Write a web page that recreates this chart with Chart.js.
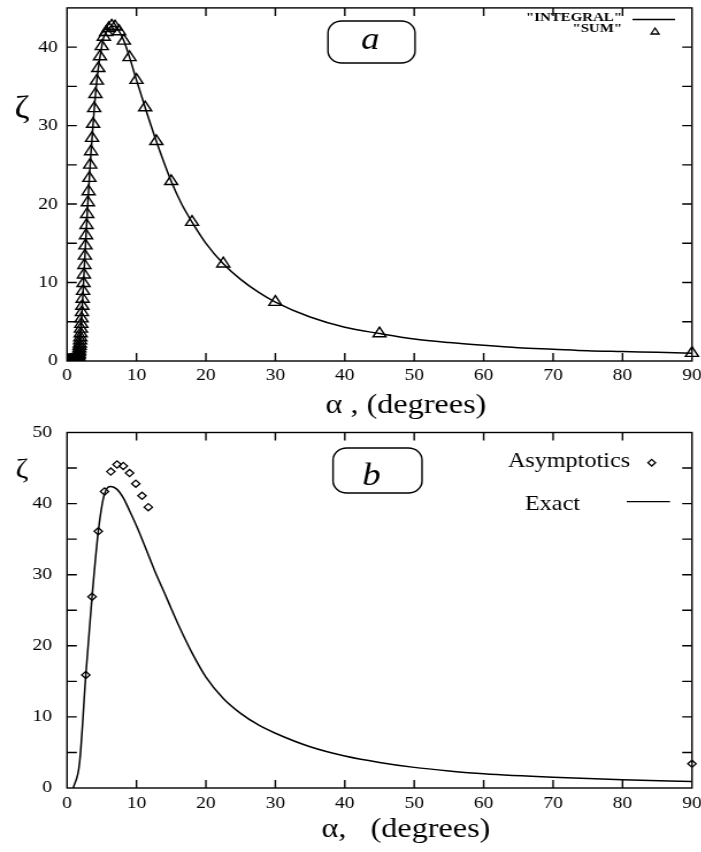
<!DOCTYPE html>
<html><head><meta charset="utf-8">
<script src="https://cdn.jsdelivr.net/npm/chart.js@4/dist/chart.umd.min.js"></script>
<style>
html,body{margin:0;padding:0;background:#fff;width:701px;height:852px;overflow:hidden}
.wrap{position:absolute;left:0;transform-origin:0 0;transform:scaleX(1.15)}
#wa{top:0}
#wb{top:415px}
canvas{display:block}
</style></head><body>
<div class="wrap" id="wa"><canvas id="ca" width="610" height="430"></canvas></div>
<div class="wrap" id="wb"><canvas id="cb" width="610" height="437"></canvas></div>
<script>
// ---------- data ----------
// Panel a: "SUM" (triangles)
const sumAlpha = [90, 45, 30, 22.5, 18, 15, 12.86, 11.25, 10, 9, 8.18, 7.5, 6.92, 6.43, 6.0, 5.63, 5.29, 5.0, 4.74, 4.5,
  4.29, 4.09, 3.91, 3.75, 3.6, 3.46, 3.33, 3.21, 3.10, 3.0, 2.90, 2.81, 2.73, 2.65, 2.57, 2.5, 2.43, 2.37, 2.31, 2.25,
  2.20, 2.14, 2.09, 2.05, 2.0, 1.96, 1.91, 1.88, 1.84, 1.8, 1.76, 1.73, 1.70, 1.67, 1.64, 1.61, 1.58, 1.55, 1.53, 1.5,
  1.45, 1.4, 1.36, 1.32, 1.29, 1.25, 1.2, 1.17, 1.13, 1.1, 1.06, 1.03, 1.0, 0.95, 0.9, 0.86, 0.82, 0.78, 0.75, 0.72,
  0.69, 0.67, 0.64, 0.6, 0.56, 0.53, 0.5, 0.45, 0.4, 0.35, 0.3, 0.25, 0.2];
const sumZeta = [1.0, 3.5, 7.5, 12.4, 17.7, 22.9, 28.0, 32.3, 35.8, 38.7, 40.8, 42.0, 42.6, 42.7, 42.4, 41.9, 41.3, 40.1, 38.8, 37.3,
  35.7, 34.0, 32.2, 30.2, 28.4, 26.7, 25.0, 23.3, 21.6, 20.2, 18.7, 17.3, 16.0, 14.7, 13.4, 12.2, 11.0, 9.9, 8.9, 7.9,
  7.0, 6.2, 5.4, 4.7, 4.1, 3.5, 3.0, 2.6, 2.2, 1.9, 1.6, 1.3, 1.1, 0.9, 0.75, 0.6, 0.5, 0.4, 0.35, 0.3,
  0.25, 0.2, 0.15, 0.12, 0.1, 0.08, 0.06, 0.05, 0.04, 0.03, 0.02, 0.02, 0.01, 0, 0, 0, 0, 0, 0, 0,
  0, 0, 0, 0, 0, 0, 0, 0, 0, 0, 0, 0, 0];
// Panel a: "INTEGRAL" (line)
const integralAlpha = [0, 0.5, 1.0, 1.3, 1.5, 1.67, 1.8, 1.91, 2.0, 2.14, 2.25, 2.37, 2.5, 2.65, 2.81, 3.0, 3.21, 3.46, 3.75, 4.09,
  4.5, 5.0, 5.29, 5.63, 6.0, 6.43, 6.92, 7.5, 8.18, 9, 10, 11.25, 12.86, 15, 16.5, 18, 20, 22.5, 25, 27.5,
  30, 35, 40, 45, 50, 55, 60, 65, 70, 75, 80, 85, 90];
const integralZeta = [0, 0, 0, 0.05, 0.3, 0.9, 1.9, 3.0, 4.1, 6.2, 7.9, 9.9, 12.2, 14.7, 17.3, 20.2, 23.3, 26.7, 30.2, 34.0,
  37.3, 40.1, 41.3, 41.9, 42.4, 42.7, 42.6, 42.0, 40.8, 38.7, 35.8, 32.3, 28.0, 22.9, 20.0, 17.7, 15.0, 12.4, 10.4, 8.8,
  7.5, 5.6, 4.3, 3.5, 2.8, 2.35, 2.0, 1.7, 1.5, 1.3, 1.2, 1.1, 1.0];
// Panel b: "Asymptotics" (diamonds)
const asymAlpha = [2.7, 3.6, 4.5, 5.4, 6.3, 7.2, 8.1, 9.0, 9.9, 10.8, 11.7, 90];
const asymZeta = [15.9, 26.9, 36.1, 41.7, 44.5, 45.5, 45.3, 44.3, 42.8, 41.1, 39.5, 3.4];
// Panel b: "Exact" (line)
const exactAlpha = [0.9, 1.8, 2.7, 3.6, 4.5, 5.4, 6.3, 7.2, 8.1, 9.0, 9.9, 10.8, 11.7, 12.6, 13.5, 14.4, 16.2, 18, 20, 22.5,
  25, 27.5, 30, 35, 40, 45, 50, 55, 60, 70, 80, 90];
const exactZeta = [0, 3.5, 15.9, 26.9, 36.1, 41.4, 42.4, 42.0, 40.8, 39.0, 37.1, 35.0, 32.8, 30.6, 28.6, 26.6, 22.6, 19.0, 15.6, 12.6,
  10.5, 8.9, 7.7, 5.8, 4.5, 3.6, 2.9, 2.4, 2.0, 1.5, 1.15, 0.9];
// Ticks
const xTicks = [0, 10, 20, 30, 40, 50, 60, 70, 80, 90];
const yTicksA = [0, 5, 10, 15, 20, 25, 30, 35, 40, 45];
const yTicksB = [0, 5, 10, 15, 20, 25, 30, 35, 40, 45, 50];
const yLabelsA = [0, 10, 20, 30, 40];
const yLabelsB = [0, 10, 20, 30, 40, 50];
// Texts
const legendA = ['"INTEGRAL"', '"SUM"'];
const legendB = ['Asymptotics', 'Exact'];
const panelTags = ['a', 'b'];
const yTitle = 'ζ';
const xTitleA = 'α , (degrees)';
const xTitleB = 'α,   (degrees)';

// ---------- drawing ----------
const SERIF = '"Liberation Serif", "Times New Roman", serif';
const pts = (xs, ys) => xs.map((x, i) => ({ x, y: ys[i] }));

function roundBox(ctx, x1, y1, x2, y2, r) {
  ctx.beginPath();
  ctx.moveTo(x1 + r, y1);
  ctx.arcTo(x2, y1, x2, y2, r);
  ctx.arcTo(x2, y2, x1, y2, r);
  ctx.arcTo(x1, y2, x1, y1, r);
  ctx.arcTo(x1, y1, x2, y1, r);
  ctx.closePath();
  ctx.stroke();
}
function triangle(ctx, x, y, r) {
  ctx.beginPath();
  for (let k = 0; k < 3; k++) {
    const a = k * 2 * Math.PI / 3;
    const px = x + Math.sin(a) * r, py = y - Math.cos(a) * r;
    k ? ctx.lineTo(px, py) : ctx.moveTo(px, py);
  }
  ctx.closePath(); ctx.stroke();
}
function diamond(ctx, x, y, r) {
  ctx.beginPath();
  ctx.moveTo(x, y - r); ctx.lineTo(x + r, y); ctx.lineTo(x, y + r); ctx.lineTo(x - r, y);
  ctx.closePath(); ctx.stroke();
}

const decor = {
  id: 'decor',
  afterDatasetsDraw(chart, args, o) {
    const { ctx, chartArea: a, scales: { x, y } } = chart;
    ctx.save();
    ctx.strokeStyle = '#000'; ctx.fillStyle = '#000';
    ctx.lineWidth = 1.4;
    ctx.strokeRect(a.left, a.top, a.right - a.left, a.bottom - a.top);
    ctx.beginPath();
    x.ticks.forEach(t => {
      const px = x.getPixelForValue(t.value);
      if (px <= a.left + 1 || px >= a.right - 1) return;
      ctx.moveTo(px, a.bottom); ctx.lineTo(px, a.bottom - 8);
      ctx.moveTo(px, a.top); ctx.lineTo(px, a.top + 8);
    });
    y.ticks.forEach(t => {
      const py = y.getPixelForValue(t.value);
      if (py <= a.top + 1 || py >= a.bottom - 1) return;
      ctx.moveTo(a.left, py); ctx.lineTo(a.left + 8.5, py);
      ctx.moveTo(a.right, py); ctx.lineTo(a.right - 8.5, py);
    });
    ctx.stroke();
    // axis titles
    ctx.textAlign = 'center'; ctx.textBaseline = 'alphabetic';
    ctx.font = o.yTitle.font; ctx.fillText(yTitle, o.yTitle.x, o.yTitle.y);
    ctx.font = o.xTitle.font; ctx.fillText(o.xTitle.text, o.xTitle.x, o.xTitle.y);
    // panel tag box
    const b = o.box;
    ctx.lineWidth = 1.4;
    roundBox(ctx, b.x1, b.y1, b.x2, b.y2, b.r);
    ctx.font = b.font; ctx.fillText(b.text, b.tx, b.ty);
    // legend
    o.legend.forEach(l => {
      ctx.font = l.font; ctx.textAlign = l.align;
      ctx.fillText(l.text, l.x, l.y);
      ctx.lineWidth = 1.3;
      if (l.sample === 'line') {
        ctx.beginPath(); ctx.moveTo(l.sx1, l.sy); ctx.lineTo(l.sx2, l.sy); ctx.stroke();
      } else if (l.sample === 'triangle') {
        triangle(ctx, l.sx1, l.sy, l.r);
      } else if (l.sample === 'diamond') {
        diamond(ctx, l.sx1, l.sy, l.r);
      }
    });
    ctx.restore();
  }
};

function makeChart(id, datasets, yTicks, yLabels, yMax, geo, deco) {
  return new Chart(document.getElementById(id), {
    type: 'scatter',
    data: { datasets },
    options: {
      responsive: false, animation: false, events: [],
      layout: { padding: { left: 0, right: geo.right, top: geo.top, bottom: 0 } },
      plugins: { legend: { display: false }, tooltip: { enabled: false }, decor: deco },
      scales: {
        x: {
          type: 'linear', min: 0, max: 90,
          afterBuildTicks: s => { s.ticks = xTicks.map(v => ({ value: v })); },
          afterFit: s => { s.height = geo.xAxisH; s.paddingLeft = 0; s.paddingRight = 0; },
          grid: { display: false, drawTicks: false }, border: { display: false },
          ticks: { font: { family: SERIF, size: 17 }, color: '#000', padding: geo.xPad, maxRotation: 0, autoSkip: false }
        },
        y: {
          type: 'linear', min: 0, max: yMax,
          afterBuildTicks: s => { s.ticks = yTicks.map(v => ({ value: v })); },
          afterFit: s => { s.width = geo.yAxisW; s.paddingTop = 0; s.paddingBottom = 0; },
          grid: { display: false, drawTicks: false }, border: { display: false },
          ticks: {
            font: { family: SERIF, size: 17 }, color: '#000', padding: geo.yPad, autoSkip: false,
            callback: v => yLabels.includes(v) ? String(v) : ''
          }
        }
      }
    },
    plugins: [decor]
  });
}

// Panel a
makeChart('ca', [
  { label: 'INTEGRAL', data: pts(integralAlpha, integralZeta), showLine: true, borderColor: '#000', borderWidth: 1.5,
    pointRadius: 0, cubicInterpolationMode: 'monotone', fill: false },
  { label: 'SUM', data: pts(sumAlpha, sumZeta), showLine: false, pointStyle: 'triangle', pointRadius: 6.5,
    pointBorderColor: '#000', pointBackgroundColor: 'rgba(0,0,0,0)', pointBorderWidth: 1.4,
    clip: { left: 0, top: 6, right: 12, bottom: 0 } }
], yTicksA, yLabelsA, 45,
  { right: 8.3, top: 3, xAxisH: 69, yAxisW: 58.3, xPad: 4, yPad: 8 },
  {
    yTitle: { x: 19, y: 118, font: '32px ' + SERIF },
    xTitle: { text: xTitleA, x: 353, y: 413, font: '28px ' + SERIF },
    box: { x1: 285.2, y1: 21, x2: 360.9, y2: 63, r: 12, text: panelTags[0], tx: 322, ty: 48.5, font: 'italic 32px ' + SERIF },
    legend: [
      { text: legendA[0], x: 541, y: 21, align: 'right', font: 'bold 13px ' + SERIF, sample: 'line', sx1: 550, sx2: 587, sy: 19.5 },
      { text: legendA[1], x: 541, y: 32, align: 'right', font: 'bold 13px ' + SERIF, sample: 'triangle', sx1: 569.6, sy: 32, r: 4 }
    ]
  });

// Panel b
makeChart('cb', [
  { label: 'Exact', data: pts(exactAlpha, exactZeta), showLine: true, borderColor: '#000', borderWidth: 1.5,
    pointRadius: 0, cubicInterpolationMode: 'monotone', fill: false },
  { label: 'Asymptotics', data: pts(asymAlpha, asymZeta), showLine: false, pointStyle: 'rectRot', pointRadius: 3.6,
    pointBorderColor: '#000', pointBackgroundColor: 'rgba(0,0,0,0)', pointBorderWidth: 1.3,
    clip: { left: 0, top: 6, right: 12, bottom: 0 } }
], yTicksB, yLabelsB, 50,
  { right: 8.3, top: 17.5, xAxisH: 64, yAxisW: 58.3, xPad: 5, yPad: 13 },
  {
    yTitle: { x: 19, y: 63, font: '27px ' + SERIF },
    xTitle: { text: xTitleB, x: 353, y: 421.7, font: '28px ' + SERIF },
    box: { x1: 289.6, y1: 33, x2: 367, y2: 78, r: 12, text: panelTags[1], tx: 323, ty: 70, font: 'italic 32px ' + SERIF },
    legend: [
      { text: legendB[0], x: 441.7, y: 51.5, align: 'left', font: '21px ' + SERIF, sample: 'diamond', sx1: 566.7, sy: 47.7, r: 3.3 },
      { text: legendB[1], x: 456.5, y: 94.5, align: 'left', font: '21px ' + SERIF, sample: 'line', sx1: 545, sx2: 582.6, sy: 86.7 }
    ]
  });
</script>
</body></html>
